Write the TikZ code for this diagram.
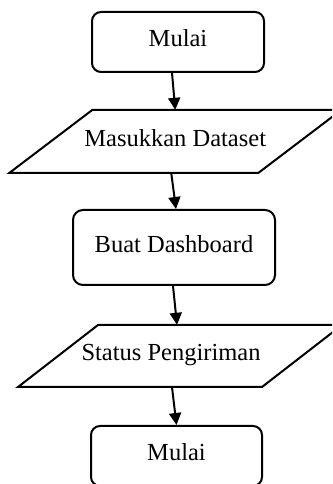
\documentclass[tikz,border=0pt]{standalone}
\usepackage{fontspec}
\setmainfont{Liberation Serif}
\usetikzlibrary{calc,arrows.meta}

% parallelogram outline around a node: node, x offset, half width, half slant, height
\newcommand{\paradraw}[5]{%
  \draw[outline] ($(#1)+(#2-#3+#4,#5/2)$) -- ($(#1)+(#2+#3+#4,#5/2)$)
    -- ($(#1)+(#2+#3-#4,-#5/2)$) -- ($(#1)+(#2-#3-#4,-#5/2)$) -- cycle;}

\begin{document}
\begin{tikzpicture}[x=1pt,y=1pt,
  outline/.style={line width=2pt, line join=miter},
  label text/.style={font=\fontsize{24.5}{28}\selectfont, text height=16pt, text depth=6pt, inner sep=0pt},
  termbox/.style={label text, draw, outline, rounded corners=9pt},
  iobox/.style={label text, minimum width=160pt},
  flow/.style={line width=2pt, -{Triangle[length=12pt,width=12pt]}}]
  \useasboundingbox (0,0) rectangle (332,484);
  \clip (0,0) rectangle (332,484);

  % steps, top to bottom
  \node[termbox, minimum width=172pt, minimum height=60pt] (start) at (178,442) {Mulai};
  \node[iobox, minimum height=63pt] (input) at (175.25,342.5) {Masukkan Dataset};
  \paradraw{input}{0}{124.5}{41.5}{63}
  \node[termbox, minimum width=202pt, minimum height=75pt, rounded corners=10pt] (dash) at (174,236.5) {Buat Dashboard};
  \node[iobox, minimum height=62pt] (status) at (171,128) {Status Pengiriman};
  \paradraw{status}{9}{122}{40}{62}
  \node[termbox, minimum width=171pt, minimum height=60pt] (end) at (176.5,28) {Mulai};

  % connectors
  \draw[flow] ([xshift=-6pt]start.south) -- (input.north);
  \draw[flow] ([xshift=-4pt]input.south) -- ([xshift=2pt]dash.north);
  \draw[flow] ([xshift=-1pt]dash.south) -- ([xshift=6pt]status.north);
  \draw[flow] ([xshift=1pt]status.south) -- (end.north);
\end{tikzpicture}
\end{document}
